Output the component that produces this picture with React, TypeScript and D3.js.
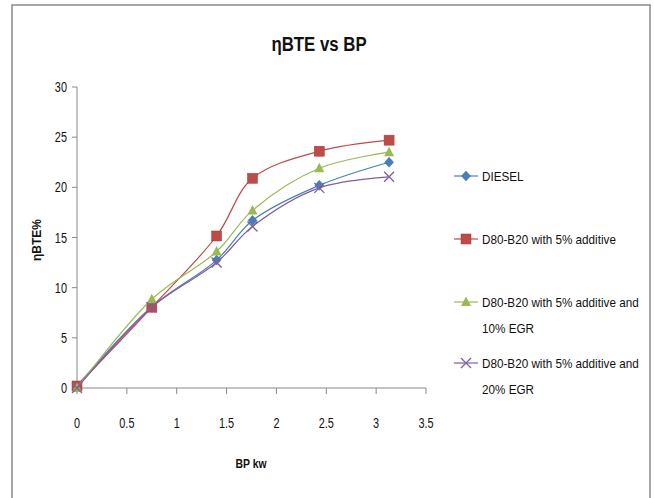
import React from "react";
import * as d3 from "d3";

const bpKw = [0, 0.75, 1.4, 1.76, 2.43, 3.13];
const diesel = [0.2, 8.1, 12.75, 16.7, 20.2, 22.5];
const additive5 = [0.2, 8.05, 15.15, 20.9, 23.6, 24.7];
const additiveEgr10 = [0, 8.85, 13.6, 17.7, 21.9, 23.5];
const additiveEgr20 = [0, 8.05, 12.5, 16.1, 19.95, 21.05];
const xTicks = [0, 0.5, 1, 1.5, 2, 2.5, 3, 3.5];
const yTicks = [0, 5, 10, 15, 20, 25, 30];

type Series = { name: string[]; values: number[]; color: string; marker: string };

const series: Series[] = [
  { name: ["DIESEL"], values: diesel, color: "#4a7ebb", marker: "diamond" },
  { name: ["D80-B20 with 5% additive"], values: additive5, color: "#be4b48", marker: "square" },
  { name: ["D80-B20 with 5% additive and", "10% EGR"], values: additiveEgr10, color: "#98b954", marker: "triangle" },
  { name: ["D80-B20 with 5% additive and", "20% EGR"], values: additiveEgr20, color: "#7d60a0", marker: "x" },
];

const W = 654;
const H = 498;
const font = "'Liberation Sans', Arial, sans-serif";

// narrow text, roughly like Calibri
function T(props: {
  x: number;
  y: number;
  size: number;
  sx?: number;
  anchor?: string;
  bold?: boolean;
  children: React.ReactNode;
}) {
  const { x, y, size, sx = 0.85, anchor = "start", bold = false } = props;
  return (
    <text
      transform={`translate(${x},${y}) scale(${sx},1)`}
      textAnchor={anchor}
      fontFamily={font}
      fontWeight={bold ? "bold" : "normal"}
      fontSize={size}
      fill="#111"
    >
      {props.children}
    </text>
  );
}

function Marker({ type, x, y, color }: { type: string; x: number; y: number; color: string }) {
  if (type === "diamond") {
    return <path d={`M${x},${y - 5}L${x + 4.5},${y}L${x},${y + 5}L${x - 4.5},${y}Z`} fill={color} stroke="#3a6aa8" strokeWidth={0.5} />;
  }
  if (type === "square") {
    return <rect x={x - 5} y={y - 5} width={10} height={10} fill={color} stroke="#a03c3a" strokeWidth={0.5} />;
  }
  if (type === "triangle") {
    return <path d={`M${x},${y - 5.5}L${x + 5},${y + 4}L${x - 5},${y + 4}Z`} fill={color} />;
  }
  return (
    <path d={`M${x - 5},${y - 5}L${x + 5},${y + 5}M${x - 5},${y + 5}L${x + 5},${y - 5}`} stroke={color} strokeWidth={1.3} fill="none" />
  );
}

export default function App() {
  const x = d3.scaleLinear().domain([0, 3.5]).range([77, 426]);
  const y = d3.scaleLinear().domain([0, 30]).range([388, 87]);
  const line = d3
    .line<number>()
    .x((_, i) => x(bpKw[i]))
    .y((d) => y(d))
    .curve(d3.curveCatmullRom.alpha(0.5));

  const legendY = [176, 239, 302, 363];

  return (
    <svg width={W} height={H} style={{ position: "absolute", left: 0, top: 0 }}>
      <rect x={0} y={0} width={W} height={H} fill="#fff" />
      <rect x={12} y={5} width={638} height={H + 10} fill="none" stroke="#8a8a8a" strokeWidth={1.5} />

      <T x={319} y={51} size={21} sx={0.8} anchor="middle" bold>
        ηBTE vs BP
      </T>

      {/* axes */}
      <line x1={x(0)} x2={x(3.5)} y1={y(0)} y2={y(0)} stroke="#888" strokeWidth={1} />
      <line x1={x(0)} x2={x(0)} y1={y(0)} y2={y(30)} stroke="#888" strokeWidth={1} />
      {xTicks.map((t) => (
        <g key={"x" + t}>
          <line x1={x(t)} x2={x(t)} y1={y(0)} y2={y(0) + 6} stroke="#888" />
          <T x={x(t)} y={428} size={14} sx={0.78} anchor="middle">
            {t}
          </T>
        </g>
      ))}
      {yTicks.map((t) => (
        <g key={"y" + t}>
          <line x1={x(0) - 5} x2={x(0)} y1={y(t)} y2={y(t)} stroke="#888" />
          <T x={67} y={y(t) + 5} size={14} sx={0.78} anchor="end">
            {t}
          </T>
        </g>
      ))}

      <T x={251} y={468} size={13} sx={0.8} anchor="middle" bold>
        BP kw
      </T>
      <text
        transform={`translate(41,240) rotate(-90)`}
        textAnchor="middle"
        fontFamily={font}
        fontWeight="bold"
        fontSize={12}
        fill="#111"
      >
        ηBTE%
      </text>

      {/* series */}
      {series.map((s) => (
        <g key={s.name[0] + s.marker}>
          <path d={line(s.values) ?? ""} fill="none" stroke={s.color} strokeWidth={1.2} />
          {s.values.map((v, i) => (
            <Marker key={i} type={s.marker} x={x(bpKw[i])} y={y(v)} color={s.color} />
          ))}
        </g>
      ))}

      {/* legend */}
      {series.map((s, k) => (
        <g key={"lg" + k}>
          <line x1={454} x2={478} y1={legendY[k]} y2={legendY[k]} stroke={s.color} strokeWidth={1.2} />
          <Marker type={s.marker} x={466} y={legendY[k]} color={s.color} />
          {s.name.map((ln, j) => (
            <T key={j} x={482} y={legendY[k] + 5 + j * 26} size={13} sx={0.9}>
              {ln}
            </T>
          ))}
        </g>
      ))}
    </svg>
  );
}
